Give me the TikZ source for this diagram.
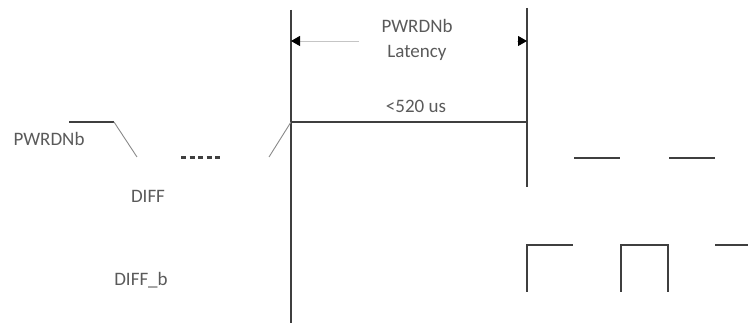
\documentclass[tikz,border=0pt]{standalone}
\usepackage{fontspec}
\setmainfont{Carlito}
\usetikzlibrary{arrows.meta}
\definecolor{tdline}{HTML}{3F3F3F}
\definecolor{tdtext}{HTML}{5A5A5A}
\definecolor{tdthin}{HTML}{8A8A8A}

\begin{document}
\begin{tikzpicture}[x=1pt,y=-1pt,font=\fontsize{19}{25}\selectfont,
 sig/.style={draw=tdline,line width=1.3pt},
 slope/.style={draw=tdthin,line width=0.9pt},
 lbl/.style={text=tdtext,inner sep=0pt,align=center},
 dim/.style={draw=tdthin!50,line width=0.8pt,-{Triangle[length=9pt,width=10pt,color=black]}}]
\useasboundingbox (0,0) rectangle (748,323);
% time markers
\coordinate (t0) at (291,122);
\coordinate (t1) at (527,122);
\node[lbl](pwrdn) at (49,139){PWRDNb};
\node[lbl](diff) at (148,196){DIFF};
\node[lbl](diffb) at (141,280){DIFF\_b};
\node[lbl](lat) at (417,40){PWRDNb\\Latency};
\node[lbl](dur) at (416,106){<520 us};
% latency markers
\draw[sig] (t0|-0,10) -- (t0|-0,323);
\draw[sig] (t1|-0,8) -- (t1|-0,187);
\draw[dim] (359,41) -- (t0|-0,41);
\draw[dim] (517,41) -- (t1|-0,41);
% PWRDNb
\draw[sig] (69,122) -- (114,122);
\draw[slope] (114,122) -- (137,157);
\draw[draw=tdline,line width=3pt,dash pattern=on 5pt off 3.5pt] (181,158) -- (220,158);
\draw[slope] (269,157) -- (t0);
\draw[sig] (t0) -- (t1);
% DIFF
\draw[sig] (574,158) -- (620,158);
\draw[sig] (669,158) -- (715,158);
% DIFF_b
\draw[sig] (527,292) -- (527,245) -- (573,245);
\draw[sig] (621,292) -- (621,245) -- (668,245) -- (668,292);
\draw[sig] (715,245) -- (748,245);
\end{tikzpicture}
\end{document}
